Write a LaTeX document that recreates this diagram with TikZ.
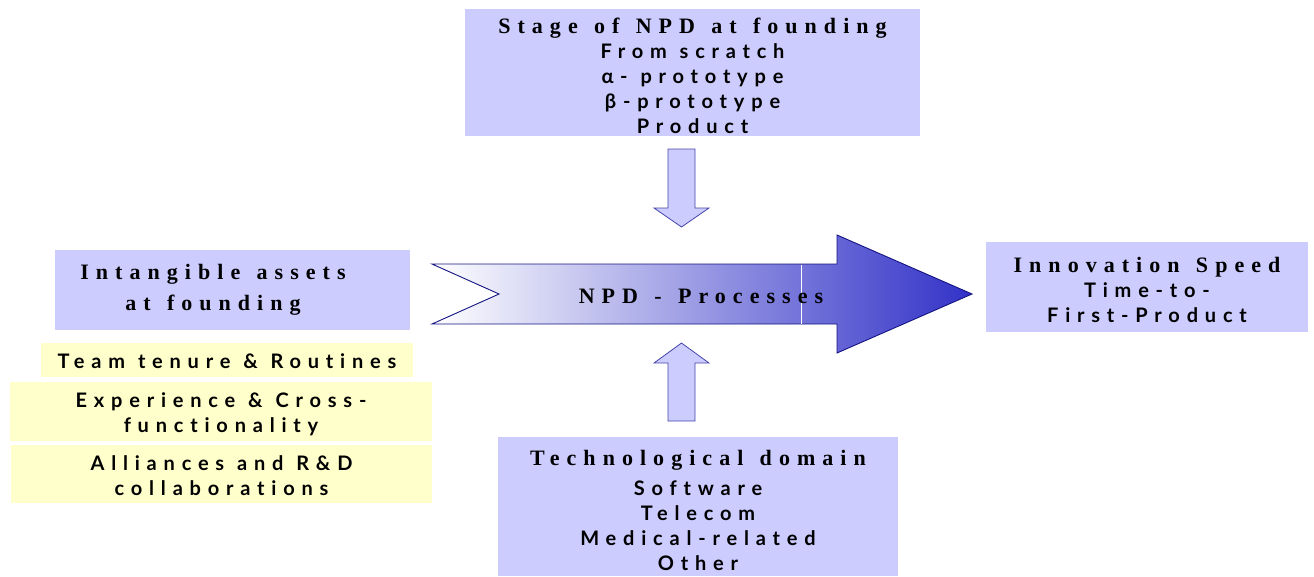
\documentclass[tikz,border=0pt]{standalone}
\usepackage{fontspec}
\setmainfont{Liberation Serif}
\newfontfamily\hdfam{Liberation Serif}[LetterSpace=32,WordSpace=1.3]
\newfontfamily\bdfam{Lato}[LetterSpace=34,WordSpace=1.1,Ligatures={NoCommon}]
\newcommand{\hd}{\hdfam\bfseries\fontsize{22}{25}\selectfont}
\newcommand{\bd}{\bdfam\bfseries\fontsize{20}{25}\selectfont}
\definecolor{boxblue}{RGB}{204,204,255}
\definecolor{boxyellow}{RGB}{255,255,204}
\definecolor{arrowdark}{RGB}{50,50,200}
\definecolor{navyline}{RGB}{20,20,130}
\definecolor{smallline}{RGB}{70,70,170}
\begin{document}
\begin{tikzpicture}[x=1pt,y=-1pt,
  pbox/.style={fill=boxblue,draw=none,inner sep=0pt},
  ybox/.style={fill=boxyellow,draw=none,inner sep=0pt},
  txt/.style={inner sep=0pt,align=center,text=black,font=\fontsize{20}{25}\selectfont},
  blockarrow/.style={fill=boxblue,draw=smallline,line width=0.8pt,line join=miter},
  bigarrow/.style={left color=white,right color=arrowdark,draw=navyline,line width=0.9pt}]
\useasboundingbox (0,0) rectangle (1314,576);

% boxes
\node[pbox,minimum width=455pt,minimum height=127pt] (stage) at (692.5,72.5) {};
\node[txt] (stagetxt) at ([yshift=-3pt]stage.center)
  {{\hd Stage of NPD at founding}\\{\bd From scratch}\\{\bd α- prototype}\\{\bd β-prototype}\\{\bd Product}};
\node[pbox,minimum width=355pt,minimum height=80pt] (assets) at (232.5,290) {};
\node[txt,font=\fontsize{22}{31}\selectfont] (assetstxt) at (213,290)
  {{\hd Intangible assets}\\{\hd at founding}};
\node[ybox,minimum width=372pt,minimum height=34pt] (team) at (227,360) {};
\node[txt,font=\bd] (teamtxt) at ([yshift=-1pt]team.center) {Team tenure \& Routines};
\node[ybox,minimum width=422pt,minimum height=59pt] (exp) at (221,411.5) {};
\node[txt,font=\bd] (exptxt) at ([yshift=-3pt]exp.center) {Experience \& Cross-\\functionality};
\node[ybox,minimum width=421pt,minimum height=58pt] (all) at (221.5,474) {};
\node[txt,font=\bd] (alltxt) at ([yshift=-2pt]all.center) {Alliances and R\&D\\collaborations};
\node[pbox,minimum width=322pt,minimum height=90pt] (speed) at (1147,287) {};
\node[txt] (speedtxt) at ([yshift=-3pt]speed.center)
  {{\hd Innovation Speed}\\{\bd Time-to-}\\{\bd First-Product}};
\node[pbox,minimum width=400pt,minimum height=139pt] (tech) at (698,506.5) {};
\node[txt] (techtxt) at ([yshift=-3.5pt]tech.center)
  {{\hd Technological domain}\\[5pt]{\bd Software}\\{\bd Telecom}\\{\bd Medical-related}\\{\bd Other}};

% big arrow
\shadedraw[bigarrow] (432,264) -- (837,264) -- (837,235) -- (972,294) -- (837,353)
  -- (837,324) -- (432,324) -- (499,294) -- cycle;
\draw[white,line width=0.8pt] (801,264.5) -- (801,323.5);
\node[inner sep=0pt,font=\hd] (npd) at (701,296) {NPD - Processes};

% small block arrows
\draw[blockarrow] (668,149) -- (695,149) -- (695,208) -- (709,208) -- (681.5,227)
  -- (654,208) -- (668,208) -- cycle;
\draw[blockarrow] (668,421) -- (695,421) -- (695,363) -- (709,363) -- (681.5,343)
  -- (654,363) -- (668,363) -- cycle;
\end{tikzpicture}
\end{document}
